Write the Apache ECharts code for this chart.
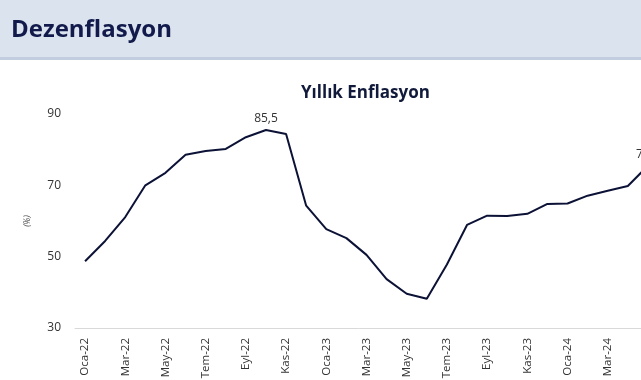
<!DOCTYPE html>
<html>
<head>
<meta charset="utf-8">
<script src="https://cdn.jsdelivr.net/npm/echarts@6/dist/echarts.min.js"></script>
<style>
  html, body { margin: 0; padding: 0; background: #fff; }
  #chart { width: 641px; height: 380px; }
</style>
</head>
<body>
<div id="chart"></div>
<script>
'use strict';

const months = [
  'Oca-22', 'Şub-22', 'Mar-22', 'Nis-22', 'May-22', 'Haz-22', 'Tem-22', 'Ağu-22', 'Eyl-22', 'Eki-22', 'Kas-22', 'Ara-22',
  'Oca-23', 'Şub-23', 'Mar-23', 'Nis-23', 'May-23', 'Haz-23', 'Tem-23', 'Ağu-23', 'Eyl-23', 'Eki-23', 'Kas-23', 'Ara-23',
  'Oca-24', 'Şub-24', 'Mar-24', 'Nis-24', 'May-24'
];

const inflation = [
  48.7, 54.4, 61.1, 70.0, 73.5, 78.6, 79.6, 80.2, 83.5, 85.5, 84.4, 64.3,
  57.7, 55.2, 50.5, 43.7, 39.6, 38.2, 47.8, 58.9, 61.5, 61.4, 62.0, 64.8,
  64.9, 67.1, 68.5, 69.8, 75.5
];

const labelled = [9, 28];

const yTicks = { min: 30, max: 90, interval: 20 };

const chart = echarts.init(document.getElementById('chart'));

const option = {
  animation: false,
  graphic: [
    { type: 'rect', shape: { x: 0, y: 0, width: 641, height: 58 }, style: { fill: '#dbe3ef' }, z: -1 },
    { type: 'rect', shape: { x: 0, y: 57, width: 641, height: 3 }, style: { fill: '#c3cde0' }, z: -1 }
  ],
  title: [
    {
      text: 'Dezenflasyon',
      left: 6, top: 13,
      textStyle: { fontFamily: 'Open Sans', fontWeight: 'bold', fontSize: 24, color: '#111a4a' }
    },
    {
      text: 'Yıllık Enflasyon',
      left: 296, top: 80,
      textStyle: { fontFamily: 'Open Sans', fontWeight: 'bold', fontSize: 17, color: '#111a3a' }
    }
  ],
  // plot runs past the right edge, as in the cropped original
  grid: { left: 75, top: 114, height: 214, width: 583, containLabel: false, outerBoundsMode: 'none' },
  xAxis: {
    type: 'category',
    data: months,
    boundaryGap: true,
    axisLine: { lineStyle: { color: '#d9d9d9', width: 1 } },
    axisTick: { show: false },
    axisLabel: {
      interval: 1, rotate: 90, margin: 10,
      fontFamily: 'Open Sans', fontSize: 11.5, color: '#333'
    }
  },
  yAxis: {
    type: 'value',
    min: yTicks.min, max: yTicks.max, interval: yTicks.interval,
    name: '(%)',
    nameLocation: 'middle',
    nameGap: 43,
    nameRotate: 90,
    nameTextStyle: { fontFamily: 'Open Sans', fontSize: 8.5, color: '#444', fontStyle: 'italic' },
    axisLine: { show: false },
    axisTick: { show: false },
    splitLine: { show: false },
    axisLabel: { margin: 14, fontFamily: 'Open Sans', fontSize: 12, color: '#333' }
  },
  series: [{
    type: 'line',
    data: inflation.map((v, i) => ({
      value: v,
      label: { show: labelled.includes(i) }
    })),
    showSymbol: true,
    symbol: 'circle',
    symbolSize: 0,
    label: {
      position: 'top',
      distance: 5,
      formatter: (p) => p.value.toFixed(1).replace('.', ','),
      fontFamily: 'Open Sans', fontSize: 12, color: '#333'
    },
    lineStyle: { color: '#0c1236', width: 2 }
  }]
};

chart.setOption(option);
</script>
</body>
</html>
